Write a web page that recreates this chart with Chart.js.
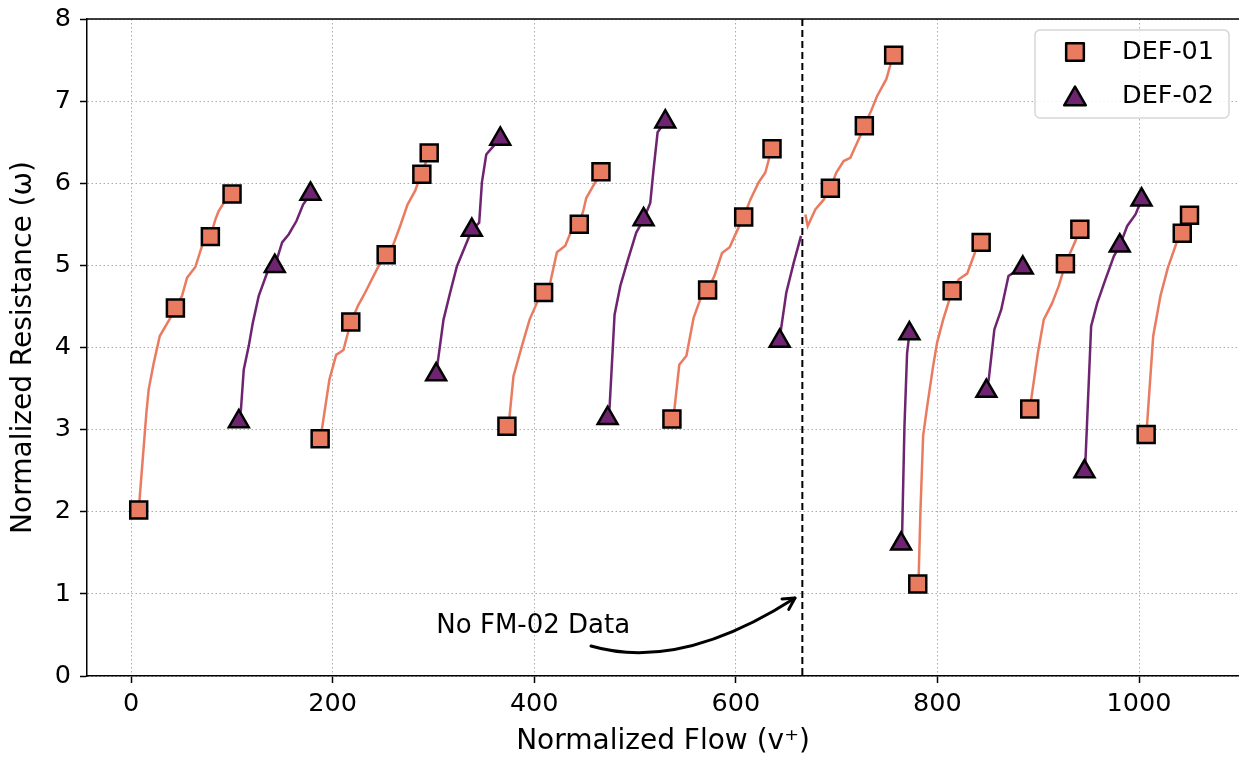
<!DOCTYPE html>
<html><head><meta charset="utf-8">
<script src="https://cdn.jsdelivr.net/npm/chart.js@4.4.1/dist/chart.umd.min.js"></script>
<style>html,body{margin:0;padding:0;background:#fff;}canvas{display:block;}</style>
</head><body>
<canvas id="c" width="1239" height="759"></canvas>
<script>
// ---- data (null separates measurement runs) ----
const seriesNames = ['DEF-01', 'DEF-02'];
const def01Flow = [
  7.6,15.2,17.5,22.5,28.5,39,44,50.6,55.6,63.8,70.5,78.7,83.7,86.9,92,100.2, null,
  187.6,189.3,196.8,203.5,210.7,218,225.6,232.3,245.5,253.1,260.4,267,274.3,281.9,284.2,288.5,292.8,295.8, null,
  372.9,375.5,379.4,387.8,395.4,404.3,409.3,415.9,422.5,430.8,437.4,444.7,449,451.6,460.5,466.2, null,
  536.6,539,543.9,551,558.1,564.8,572,578.7,586.3,593.9,601.2,607.8,614.4,622.6,629.3,633.2,635.9, null,
  669,671.3,678.9,687.2,693.8,699.7,707,713.6,723.6,727.5,733.5,740.1,749.4,754,756.6, null,
  780.5,781.5,783.1,785.8,789.8,795.7,799.7,805.7,814.6,821.2,829.5,837.7,843.4, null,
  891.6,893.3,899.6,905.5,913.8,920.4,927,932,937,941.3, null,
  1007.1,1008.1,1014.1,1021.3,1028.6,1037.9,1042.9,1050.1
];
const def01Resistance = [
  2.02,3.20,3.49,3.81,4.14,4.36,4.48,4.63,4.85,4.98,5.24,5.35,5.56,5.66,5.76,5.87, null,
  2.89,3.00,3.61,3.91,3.97,4.31,4.52,4.67,4.99,5.13,5.26,5.48,5.74,5.91,5.99,6.11,6.27,6.37, null,
  3.04,3.16,3.65,4.02,4.34,4.59,4.67,4.79,5.16,5.24,5.44,5.50,5.68,5.82,6.01,6.14, null,
  3.13,3.24,3.79,3.90,4.36,4.59,4.70,4.87,5.15,5.22,5.42,5.59,5.80,6.01,6.13,6.31,6.42, null,
  5.62,5.48,5.68,5.80,5.94,6.13,6.27,6.31,6.58,6.70,6.86,7.06,7.27,7.47,7.56, null,
  1.12,1.25,1.98,2.92,3.28,3.77,4.06,4.34,4.69,4.83,4.90,5.17,5.28, null,
  3.25,3.39,3.93,4.34,4.54,4.75,5.02,5.16,5.30,5.44, null,
  2.94,3.08,4.14,4.63,4.97,5.30,5.39,5.61
];
const def01Marker = [
  1,0,0,0,0,0,1,0,0,0,0,1,0,0,0,1, 0,
  1,0,0,0,0,1,0,0,0,1,0,0,0,0,0,1,0,1, 0,
  1,0,0,0,0,0,1,0,0,0,0,1,0,0,0,1, 0,
  1,0,0,0,0,0,1,0,0,0,0,1,0,0,0,0,1, 0,
  0,0,0,0,1,0,0,0,0,1,0,0,0,0,1, 0,
  1,0,0,0,0,0,0,0,1,0,0,0,1, 0,
  1,0,0,0,0,0,1,0,0,1, 0,
  1,0,0,0,0,0,1,1
];
const def02Flow = [
  106.9,109,111.8,116.8,120.8,126.7,135,142.6,149.9,156.5,164.1,170.7,178, null,
  302.7,304.4,310,316.6,323.3,338.1,345.4,348.1,352.4,358,366.3, null,
  472.8,474.8,479.7,485.4,493,501.2,508.5,515.1,518.4,522.4,530, null,
  643.5,644.8,650.1,657.4,664.7, null,
  764,765,767.3,769.9,772.2, null,
  848.6,850.9,856.5,863.3,870.5,876.5,884.7, null,
  945.9,946.9,952.5,958.5,966.7,975,980.9,988.3,996.5,1002.5
];
const def02Resistance = [
  3.10,3.24,3.73,4.02,4.30,4.63,4.91,4.99,5.28,5.38,5.54,5.74,5.87, null,
  3.67,3.83,4.34,4.67,4.99,5.43,5.52,6.01,6.35,6.43,6.54, null,
  3.14,3.28,4.40,4.75,5.07,5.40,5.56,5.76,6.17,6.62,6.75, null,
  4.08,4.22,4.67,5.03,5.36, null,
  1.61,1.74,3.04,3.93,4.17, null,
  3.47,3.61,4.22,4.46,4.87,4.92,4.97, null,
  2.49,2.63,4.26,4.54,4.83,5.11,5.24,5.48,5.62,5.80
];
const def02Marker = [
  1,0,0,0,0,0,0,1,0,0,0,0,1, 0,
  1,0,0,0,0,1,0,0,0,0,1, 0,
  1,0,0,0,0,0,1,0,0,0,1, 0,
  1,0,0,0,0, 0,
  1,0,0,0,1, 0,
  1,0,0,0,0,0,1, 0,
  1,0,0,0,0,0,1,0,0,1
];
const xTickValues = [0, 200, 400, 600, 800, 1000];
const yTickValues = [0, 1, 2, 3, 4, 5, 6, 7, 8];
const noDataFlow = 666;           // dashed separator
const noteText = 'No FM-02 Data';
const noteAt = [399, 0.60];        // text centre (flow, resistance)
const arrowFrom = [456.3, 0.365], arrowCtrl = [544.6, 0.05], arrowTo = [658.7, 0.95];

// ---- styling ----
const ORANGE = '#E97B61', PURPLE = '#6E2470';
const FONT = "'DejaVu Sans', sans-serif";

function linePts(xs, ys) { return xs.map((x, i) => ({x: x, y: ys[i]})); }
function markerPts(xs, ys, m) { return xs.map((x, i) => ({x: x, y: ys[i]})).filter((p, i) => m[i] === 1); }

const overlay = {
  id: 'overlay',
  beforeDatasetsDraw(chart) {
    const {ctx, chartArea: a, scales: {x}} = chart;
    const px = x.getPixelForValue(noDataFlow);
    ctx.save();
    ctx.strokeStyle = '#000'; ctx.lineWidth = 2; ctx.setLineDash([7, 4]);
    ctx.beginPath(); ctx.moveTo(px, a.top); ctx.lineTo(px, a.bottom); ctx.stroke();
    ctx.restore();
  },
  afterDraw(chart) {
    const {ctx, chartArea: a, scales: {x, y}} = chart;
    ctx.save();
    // top spine
    ctx.strokeStyle = '#000'; ctx.lineWidth = 1.5;
    ctx.beginPath(); ctx.moveTo(a.left, a.top); ctx.lineTo(a.right, a.top); ctx.stroke();
    // note text
    ctx.fillStyle = '#000'; ctx.font = '26px ' + FONT; ctx.textAlign = 'center'; ctx.textBaseline = 'middle';
    ctx.fillText(noteText, x.getPixelForValue(noteAt[0]), y.getPixelForValue(noteAt[1]));
    // curved arrow
    const p0 = [x.getPixelForValue(arrowFrom[0]), y.getPixelForValue(arrowFrom[1])];
    const c = [x.getPixelForValue(arrowCtrl[0]), y.getPixelForValue(arrowCtrl[1])];
    const p1 = [x.getPixelForValue(arrowTo[0]), y.getPixelForValue(arrowTo[1])];
    ctx.lineWidth = 3; ctx.lineCap = 'round'; ctx.lineJoin = 'round';
    ctx.beginPath(); ctx.moveTo(p0[0], p0[1]); ctx.quadraticCurveTo(c[0], c[1], p1[0], p1[1]); ctx.stroke();
    const ang = Math.atan2(p1[1] - c[1], p1[0] - c[0]);
    const L = 13, sp = 0.5;
    ctx.beginPath();
    ctx.moveTo(p1[0] - L * Math.cos(ang - sp), p1[1] - L * Math.sin(ang - sp));
    ctx.lineTo(p1[0], p1[1]);
    ctx.lineTo(p1[0] - L * Math.cos(ang + sp), p1[1] - L * Math.sin(ang + sp));
    ctx.stroke();
    // legend
    const bx = 1035, by = 30, bw = 194, bh = 88, r = 5;
    ctx.lineWidth = 1.5; ctx.strokeStyle = '#d6d6d6'; ctx.fillStyle = 'rgba(255,255,255,0.85)';
    ctx.beginPath(); ctx.roundRect(bx, by, bw, bh, r); ctx.fill(); ctx.stroke();
    const items = [
      {label: seriesNames[0], style: 'rect', color: ORANGE, r: 12.5, yc: 52},
      {label: seriesNames[1], style: 'triangle', color: PURPLE, r: 12.5, yc: 96}
    ];
    items.forEach(it => {
      ctx.fillStyle = it.color; ctx.strokeStyle = '#000'; ctx.lineWidth = 2.5;
      Chart.helpers.drawPoint(ctx, {pointStyle: it.style, radius: it.r, borderWidth: 2.5, rotation: 0}, 1075, it.style === 'triangle' ? it.yc + 3 : it.yc);
      ctx.fillStyle = '#000'; ctx.font = '25.5px ' + FONT; ctx.textAlign = 'left'; ctx.textBaseline = 'middle';
      ctx.fillText(it.label, 1122, it.yc);
    });
    ctx.restore();
  }
};

const tickFont = {family: FONT, size: 25.5};
const titleFont = {family: FONT, size: 28};

new Chart(document.getElementById('c'), {
  type: 'scatter',
  data: {
    datasets: [
      {label: seriesNames[0], data: markerPts(def01Flow, def01Resistance, def01Marker), pointStyle: 'rect',
       pointRadius: 12, pointBackgroundColor: ORANGE, pointBorderColor: '#000', pointBorderWidth: 2.5, showLine: false, order: 0},
      {label: seriesNames[1], data: markerPts(def02Flow, def02Resistance, def02Marker), pointStyle: 'triangle',
       pointRadius: 11.5, pointBackgroundColor: PURPLE, pointBorderColor: '#000', pointBorderWidth: 2.5, showLine: false, order: 0},
      {label: seriesNames[0] + ' line', data: linePts(def01Flow, def01Resistance), showLine: true, spanGaps: false,
       borderColor: ORANGE, borderWidth: 2.5, pointRadius: 0, tension: 0, order: 2},
      {label: seriesNames[1] + ' line', data: linePts(def02Flow, def02Resistance), showLine: true, spanGaps: false,
       borderColor: PURPLE, borderWidth: 2.5, pointRadius: 0, tension: 0, order: 2}
    ]
  },
  options: {
    responsive: false, animation: false, events: [],
    layout: {autoPadding: false, padding: {top: 19, left: 0, right: 0, bottom: 0}},
    plugins: {legend: {display: false}, tooltip: {enabled: false}},
    scales: {
      x: {
        type: 'linear', min: -43.7, max: 1099.2,
        afterBuildTicks: s => { s.ticks = xTickValues.map(v => ({value: v})); },
        afterFit: s => { s.height = 83; s.paddingLeft = 0; s.paddingRight = 0; },
        ticks: {font: tickFont, color: '#000', padding: 6, maxRotation: 0, autoSkip: false, callback: v => String(v)},
        grid: {color: '#aaaaaa', lineWidth: 1, tickColor: '#000', tickWidth: 1.5, tickLength: 7, tickBorderDash: []},
        border: {color: '#000', width: 1.5, dash: [1.5, 2.5]},
        title: {display: true, text: 'Normalized Flow (v\u207A)', font: titleFont, color: '#000', padding: {top: 2, bottom: 0}}
      },
      y: {
        type: 'linear', min: 0, max: 8,
        afterBuildTicks: s => { s.ticks = yTickValues.map(v => ({value: v})); },
        afterFit: s => { s.width = 87; s.paddingTop = 0; s.paddingBottom = 0; },
        ticks: {font: tickFont, color: '#000', padding: 9, callback: v => String(v)},
        grid: {color: '#aaaaaa', lineWidth: 1, tickColor: '#000', tickWidth: 1.5, tickLength: 7, tickBorderDash: []},
        border: {color: '#000', width: 1.5, dash: [1.5, 2.5]},
        title: {display: true, text: 'Normalized Resistance (\u03C9)', font: titleFont, color: '#000', padding: {top: 7, bottom: 2}}
      }
    }
  },
  plugins: [overlay]
});
</script>
</body></html>
